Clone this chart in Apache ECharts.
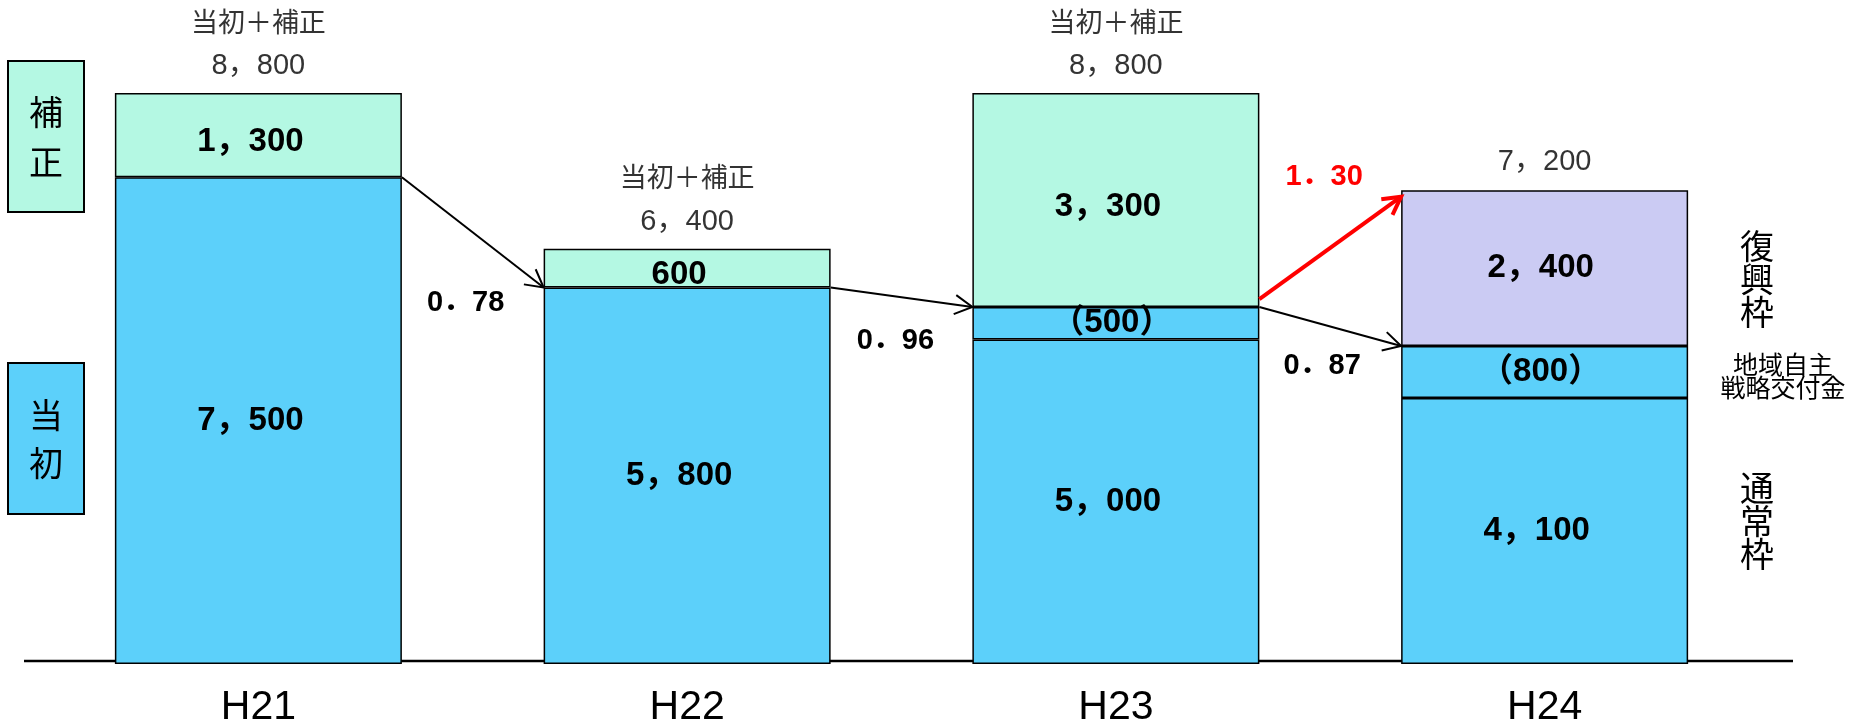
<!DOCTYPE html>
<html><head><meta charset="utf-8">
<script src="https://cdn.jsdelivr.net/npm/echarts@6/dist/echarts.min.js"></script>
<style>html,body{margin:0;padding:0;background:#fff}#c{width:1853px;height:728px}</style>
</head><body><div id="c"></div>
<script>
// ---- data ----
const categories = ['H21', 'H22', 'H23', 'H24'];
const regular = [7500, 5800, 5000, 4100];          // 当初 / 通常枠
const strategic = [null, null, 500, 800];          // 地域自主戦略交付金
const supplement = [1300, 600, 3300, null];        // 補正
const reconstruction = [null, null, null, 2400];   // 復興枠
const totals = [8800, 6400, 8800, 7200];
const headings = ['当初＋補正', '当初＋補正', '当初＋補正', ''];
const ratioLabels = ['0．78', '0．96', '1．30', '0．87'];
const legendTop = '補\n正';
const legendBottom = '当\n初';
const sideReconstruction = '復\n興\n枠';
const sideStrategic = '地域自主\n戦略交付金';
const sideRegular = '通\n常\n枠';

// ---- style ----
const FONT = '"Liberation Sans", "Noto Sans CJK JP", sans-serif';
const CJK = '"Noto Sans CJK JP", sans-serif';
const BLUE = '#5cd0fa', GREEN = '#b4f8e3', PURPLE = '#cbcbf3';
const BAR_W = 287;

function fmt(v) {
  if (v >= 1000) return Math.floor(v / 1000) + '，' + String(v % 1000).padStart(3, '0');
  return String(v);
}

const chart = echarts.init(document.getElementById('c'));

function barSeries(name, data, color, labelFn, offset) {
  return {
    type: 'bar', name, stack: 'total', data, barWidth: BAR_W,
    itemStyle: { color, borderColor: '#000', borderWidth: 1.5 },
    label: {
      show: true, position: 'inside', color: '#000', fontFamily: FONT,
      fontSize: 33, fontWeight: 'bold', offset,
      formatter: p => (p.value == null ? '' : labelFn(p.value))
    },
    silent: true
  };
}

chart.setOption({
  animation: false,
  grid: { left: 44, right: 94, top: 15, bottom: 63 },
  xAxis: {
    type: 'category', data: categories,
    axisLine: { show: false }, axisTick: { show: false },
    axisLabel: { color: '#000', fontSize: 41, fontFamily: FONT, margin: 23 }
  },
  yAxis: { type: 'value', min: 0, max: 10000, show: false, splitLine: { show: false } },
  series: [
    barSeries('通常枠', regular, BLUE, fmt, [-8, 0]),
    barSeries('地域自主戦略交付金', strategic, BLUE, v => '（' + fmt(v) + '）', [-4, 0]),
    barSeries('補正', supplement, GREEN, fmt, [-8, 7]),
    barSeries('復興枠', reconstruction, PURPLE, fmt, [-4, 0]),
    {
      type: 'scatter', silent: true, symbolSize: 1,
      itemStyle: { color: 'transparent' },
      data: totals.map((t, i) => ({ value: [i, t], label: { distance: headings[i] ? 6 : 14 } })),
      label: {
        show: true, position: 'top', color: '#000',
        formatter: p => (headings[p.dataIndex] ? '{h|' + headings[p.dataIndex] + '}\n' : '') +
          '{v|' + fmt(totals[p.dataIndex]) + '}',
        rich: {
          h: { fontSize: 27, lineHeight: 50, fontFamily: CJK, color: '#000' },
          v: { fontSize: 29, lineHeight: 40, fontFamily: FONT, color: '#000' }
        }
      },
      z: 5
    }
  ]
});

// ---- annotations positioned through the chart's own scales ----
function px(ci, v) { return chart.convertToPixel({ xAxisIndex: 0, yAxisIndex: 0 }, [ci, v]); }
const half = BAR_W / 2;
const base = regular.map((r, i) => r + (strategic[i] || 0));

const g = [];
const y0 = px(0, 0)[1];
g.push({ type: 'line', z: 1, shape: { x1: 24, y1: y0 - 3, x2: 1793, y2: y0 - 3 }, style: { stroke: '#000', lineWidth: 2.5 } });

function arrow(fromCi, fromV, toCi, toV, color, width, dyStart) {
  const a = px(fromCi, fromV), b = px(toCi, toV);
  const x1 = a[0] + half, y1 = a[1] + (dyStart || 0), x2 = b[0] - half, y2 = b[1];
  const ang = Math.atan2(y2 - y1, x2 - x1), L = 20, s = 0.5;
  g.push({ type: 'line', z: 10, shape: { x1, y1, x2, y2 }, style: { stroke: color, lineWidth: width } });
  g.push({ type: 'polyline', z: 10, shape: { points: [
    [x2 - L * Math.cos(ang - s), y2 - L * Math.sin(ang - s)], [x2, y2],
    [x2 - L * Math.cos(ang + s), y2 - L * Math.sin(ang + s)]] },
    style: { stroke: color, lineWidth: width, fill: null } });
  return [x2, y2];
}
function txt(text, x, y, size, opts) {
  g.push({ type: 'text', z: 12, style: Object.assign({
    text, x, y, align: 'center', verticalAlign: 'middle', fontFamily: FONT, fontSize: size, fill: '#000'
  }, opts || {}) });
}

let e;
e = arrow(0, base[0], 1, base[1], '#000', 2);
txt(ratioLabels[0], e[0] - 78, e[1] + 15, 29, { fontWeight: 'bold' });
e = arrow(1, base[1], 2, base[2], '#000', 2);
txt(ratioLabels[1], e[0] - 77, e[1] + 34, 29, { fontWeight: 'bold' });
e = arrow(2, base[2], 3, totals[3], '#ff0000', 4, -8);
txt(ratioLabels[2], e[0] - 77, e[1] - 20, 29, { fontWeight: 'bold', fill: '#ff0000' });
e = arrow(2, base[2], 3, base[3], '#000', 2);
txt(ratioLabels[3], e[0] - 79, e[1] + 20, 29, { fontWeight: 'bold' });

// legend boxes on the left
g.push({ type: 'rect', z: 3, shape: { x: 8, y: 61, width: 76, height: 151 }, style: { fill: GREEN, stroke: '#000', lineWidth: 2 } });
txt(legendTop, 46, 137, 34, { lineHeight: 50, fontFamily: CJK });
g.push({ type: 'rect', z: 3, shape: { x: 8, y: 363, width: 76, height: 151 }, style: { fill: BLUE, stroke: '#000', lineWidth: 2 } });
txt(legendBottom, 46, 439, 34, { lineHeight: 48, fontFamily: CJK });

// side labels next to H24
const yTop = px(3, totals[3])[1], yBase = px(3, base[3])[1], yReg = px(3, regular[3])[1], yZero = px(3, 0)[1];
txt(sideReconstruction, 1757, (yTop + yBase) / 2 + 8, 34, { lineHeight: 33, fontFamily: CJK });
txt(sideStrategic, 1783, (yBase + yReg) / 2 + 4, 25, { lineHeight: 23, fontFamily: CJK });
txt(sideRegular, 1757, (yReg + yZero) / 2 - 10, 34, { lineHeight: 33, fontFamily: CJK });

chart.setOption({ graphic: g });
</script>
</body></html>
